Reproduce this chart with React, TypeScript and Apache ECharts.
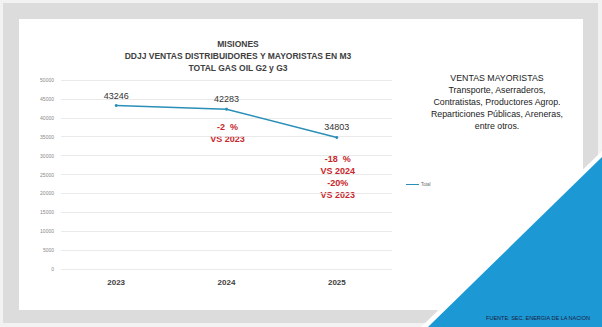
import React, { useEffect, useRef } from "react";
import * as echarts from "echarts";

const categories = ["2023", "2024", "2025"];
const totals = [43246, 42283, 34803];
const annotations: { idx: number; lines: string[] }[] = [
  { idx: 1, lines: ["-2  %", "VS 2023"] },
  { idx: 2, lines: ["-18  %", "VS 2024", "-20%", "VS 2023"] },
];
const titleLines = ["MISIONES", "DDJJ VENTAS DISTRIBUIDORES Y MAYORISTAS EN M3", "TOTAL GAS OIL G2 y G3"];
const sideLines = [
  "VENTAS MAYORISTAS",
  "Transporte, Aserraderos,",
  "Contratistas, Productores Agrop.",
  "Reparticiones Públicas, Areneras,",
  "entre otros.",
];
const sourceText = "FUENTE: SEC. ENERGIA DE LA NACION";

export default function App() {
  const ref = useRef<HTMLDivElement>(null);
  useEffect(() => {
    if (!ref.current) return;
    const chart = echarts.init(ref.current, null, { renderer: "svg" });
    const font = "Liberation Sans, Arial, sans-serif";
    const bg: any[] = [
      { type: "rect", z: -30, shape: { x: 3, y: 3, width: 595, height: 320 }, style: { fill: "#dcdcdc" }, silent: true },
      { type: "rect", z: -29, shape: { x: 19, y: 19, width: 564, height: 291 }, style: { fill: "#ffffff" }, silent: true },
      { type: "polygon", z: -28, shape: { points: [[421, 327], [602, 151], [602, 327]] }, style: { fill: "#ffffff" }, silent: true },
      { type: "polygon", z: -27, shape: { points: [[428, 327], [602, 157], [602, 327]] }, style: { fill: "#1c98d5" }, silent: true },
    ];
    titleLines.forEach((t, i) => {
      bg.push({
        type: "text", x: 238, y: 44 + i * 12,
        style: { text: t, fill: "#404040", font: `bold 8.5px ${font}`, textAlign: "center", textVerticalAlign: "middle" },
      });
    });
    sideLines.forEach((t, i) => {
      bg.push({
        type: "text", x: 497, y: 78 + i * 12,
        style: { text: t, fill: "#222222", font: `8.8px ${font}`, textAlign: "center", textVerticalAlign: "middle" },
      });
    });
    bg.push({
      type: "text", x: 590, y: 318,
      style: { text: sourceText, fill: "#1a2040", font: `5.5px ${font}`, textAlign: "right", textVerticalAlign: "middle" },
    });

    const option: any = {
      animation: false,
      backgroundColor: "#f2f2f2",
      grid: { left: 61, right: 210, top: 80, bottom: 58 },
      legend: {
        show: true, orient: "vertical", left: 401, top: 177,
        itemWidth: 13, itemHeight: 6, itemGap: 4,
        textStyle: { fontSize: 4.5, color: "#666", fontFamily: font, padding: [0, 0, 0, -3] },
        data: [{ name: "Total", icon: "path://M0,2.5 L13,2.5 L13,3.5 L0,3.5 Z" }],
      },
      xAxis: {
        type: "category", data: categories, boundaryGap: true,
        axisLine: { show: false }, axisTick: { show: false },
        axisLabel: { fontSize: 8, fontWeight: "bold", color: "#404040", margin: 9, fontFamily: font },
      },
      yAxis: {
        type: "value", min: 0, max: 50000, interval: 5000,
        axisLabel: { fontSize: 5, color: "#888", margin: 7, fontFamily: font, formatter: (v: number) => String(v) },
        splitLine: { lineStyle: { color: "#e4e4e4", width: 0.8 } },
        axisLine: { show: false }, axisTick: { show: false },
      },
      series: [
        {
          name: "Total", type: "line", data: totals,
          lineStyle: { color: "#2a8fb8", width: 1.5 }, itemStyle: { color: "#2a8fb8" },
          symbol: "circle", symbolSize: 3, showSymbol: true,
          label: { show: true, position: "top", distance: 4, fontSize: 9, fontWeight: 500, color: "#333", fontFamily: font },
        },
      ],
      graphic: bg,
    };
    chart.setOption(option);

    const extra: any[] = [];
    annotations.forEach((a) => {
      const p = chart.convertToPixel({ gridIndex: 0 }, [a.idx, totals[a.idx]]) as number[];
      const offset = a.idx === 2 ? 22 : 18;
      a.lines.forEach((t, i) => {
        extra.push({
          type: "text", x: p[0] + 1, y: p[1] + offset + i * 11.7,
          style: { text: t, fill: "#c8262b", font: `bold 9px ${font}`, textAlign: "center", textVerticalAlign: "middle" },
        });
      });
    });
    chart.setOption({ graphic: bg.concat(extra) });
    return () => chart.dispose();
  }, []);
  return <div ref={ref} style={{ position: "fixed", left: 0, top: 0, width: 602, height: 327 }} />;
}
